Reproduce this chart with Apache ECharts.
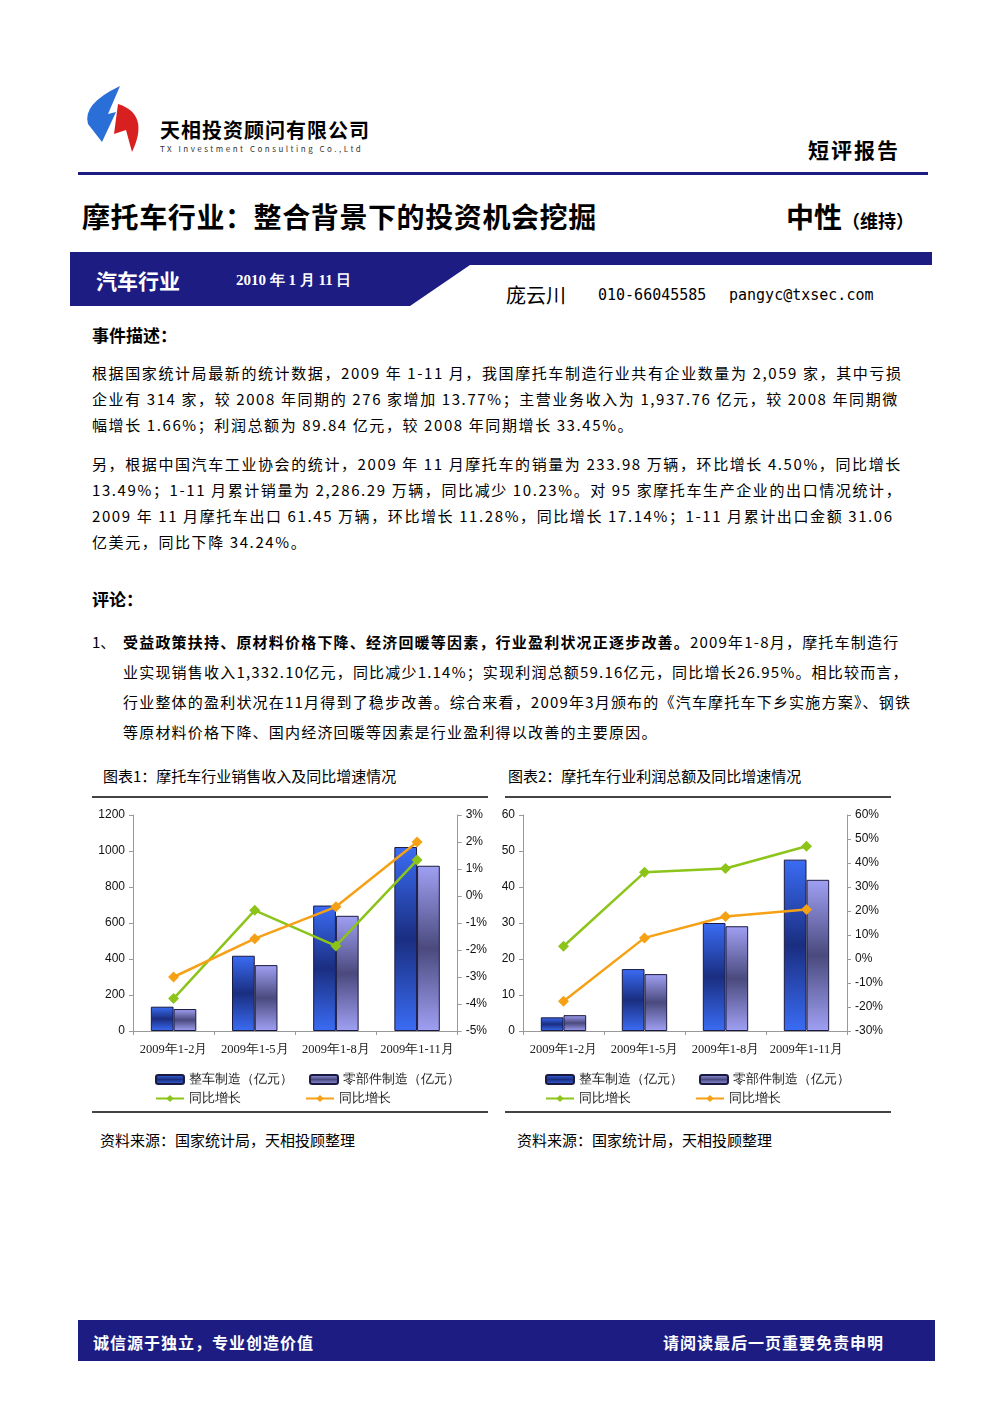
<!DOCTYPE html>
<html><head><meta charset="utf-8">
<script src="https://cdn.jsdelivr.net/npm/echarts@6/dist/echarts.min.js"></script>
<style>
body{margin:0;width:992px;height:1403px;background:#fff;position:relative;font-family:"Noto Sans CJK SC",sans-serif;color:#000;overflow:hidden}
.a{position:absolute;white-space:nowrap}
p.t{position:absolute;left:92px;width:820px;margin:0;font-size:15px;line-height:26px;letter-spacing:1.6px}
</style></head><body>
<svg class="a" style="left:80px;top:84px" width="75" height="72">
<path d="M40 2 L28 30 L36 28 L22 58 L8 40 Q2 20 40 2Z" fill="#2a6fd8"/>
<path d="M38 20 Q70 30 52 68 L46 46 L34 50 Z" fill="#d82020"/>
</svg>
<div class="a" style="left:160px;top:118px;font-size:20px;line-height:24px;font-weight:bold;letter-spacing:1px">天相投资顾问有限公司</div>
<div class="a" style="left:160px;top:144px;font-size:8px;line-height:10px;letter-spacing:2.5px;color:#333">TX Investment Consulting Co.,Ltd</div>
<div class="a" style="left:808px;top:134px;font-size:21px;font-weight:bold;letter-spacing:2px">短评报告</div>
<div class="a" style="left:78px;top:172px;width:850px;height:3px;background:#1c1c82"></div>
<div class="a" style="left:82px;top:196px;font-size:28px;font-weight:bold;letter-spacing:0.6px">摩托车行业：整合背景下的投资机会挖掘</div>
<div class="a" style="left:786px;top:196px;font-size:28px;font-weight:bold">中性<span style="font-size:18px">（维持）</span></div>
<svg class="a" style="left:70px;top:252px" width="862" height="54"><polygon points="0,0 862,0 862,13 400,13 340,54 0,54" fill="#1c1c82"/></svg>
<div class="a" style="left:96px;top:265px;font-size:21px;font-weight:bold;color:#fff">汽车行业</div>
<div class="a" style="left:236px;top:271px;font-size:15px;font-weight:bold;color:#fff;font-family:'Liberation Serif',serif">2010 年 1 月 11 日</div>
<div class="a" style="left:506px;top:280px;font-size:20px">庞云川</div>
<div class="a" style="left:598px;top:286px;font-size:15px;font-family:'DejaVu Sans Mono',monospace">010-66045585</div>
<div class="a" style="left:729px;top:286px;font-size:15px;font-family:'DejaVu Sans Mono',monospace">pangyc@txsec.com</div>
<div class="a" style="left:92px;top:322px;font-size:17px;font-weight:bold">事件描述：</div>
<p class="t" style="top:360px">根据国家统计局最新的统计数据，2009 年 1-11 月，我国摩托车制造行业共有企业数量为 2,059 家，其中亏损企业有 314 家，较 2008 年同期的 276 家增加 13.77%；主营业务收入为 1,937.76 亿元，较 2008 年同期微幅增长 1.66%；利润总额为 89.84 亿元，较 2008 年同期增长 33.45%。</p>
<p class="t" style="top:451px">另，根据中国汽车工业协会的统计，2009 年 11 月摩托车的销量为 233.98 万辆，环比增长 4.50%，同比增长 13.49%；1-11 月累计销量为 2,286.29 万辆，同比减少 10.23%。对 95 家摩托车生产企业的出口情况统计，2009 年 11 月摩托车出口 61.45 万辆，环比增长 11.28%，同比增长 17.14%；1-11 月累计出口金额 31.06 亿美元，同比下降 34.24%。</p>
<div class="a" style="left:92px;top:586px;font-size:17px;font-weight:bold">评论：</div>
<div class="a" style="left:92px;top:630px;font-size:15px;line-height:24px">1、</div>
<p class="t" style="top:627px;left:123px;width:790px;line-height:30px;letter-spacing:1.2px"><b>受益政策扶持、原材料价格下降、经济回暖等因素，行业盈利状况正逐步改善。</b>2009年1-8月，摩托车制造行业实现销售收入1,332.10亿元，同比减少1.14%；实现利润总额59.16亿元，同比增长26.95%。相比较而言，行业整体的盈利状况在11月得到了稳步改善。综合来看，2009年3月颁布的《汽车摩托车下乡实施方案》、钢铁等原材料价格下降、国内经济回暖等因素是行业盈利得以改善的主要原因。</p>
<div class="a" style="left:103px;top:765px;font-size:15px">图表1：摩托车行业销售收入及同比增速情况</div>
<div class="a" style="left:508px;top:765px;font-size:15px">图表2：摩托车行业利润总额及同比增速情况</div>
<div class="a" style="left:92px;top:796px;width:396px;height:2px;background:#444"></div>
<div class="a" style="left:505px;top:796px;width:386px;height:2px;background:#444"></div>
<div class="a" style="left:92px;top:1111px;width:396px;height:2px;background:#444"></div>
<div class="a" style="left:505px;top:1111px;width:386px;height:2px;background:#444"></div>
<div id="c1" class="a" style="left:90px;top:800px;width:400px;height:310px"></div>
<div id="c2" class="a" style="left:495px;top:800px;width:400px;height:310px"></div>
<div class="a" style="left:100px;top:1129px;font-size:15px">资料来源：国家统计局，天相投顾整理</div>
<div class="a" style="left:517px;top:1129px;font-size:15px">资料来源：国家统计局，天相投顾整理</div>
<div class="a" style="left:78px;top:1320px;width:857px;height:41px;background:#1c1c82"></div>
<div class="a" style="left:93px;top:1330px;font-size:16px;font-weight:bold;color:#fff;letter-spacing:1px">诚信源于独立，专业创造价值</div>
<div class="a" style="left:663px;top:1330px;font-size:16px;font-weight:bold;color:#fff;letter-spacing:1px">请阅读最后一页重要免责申明</div>
<script>
var categories=['2009年1-2月','2009年1-5月','2009年1-8月','2009年1-11月'];
var c1Vehicle=[135,418,697,1022];
var c1Parts=[122,366,640,918];
var c1GreenPct=[-3.8,-0.53,-1.85,1.33];
var c1OrangePct=[-3.0,-1.58,-0.4,2.0];
var c2Vehicle=[3.8,17.2,30,47.6];
var c2Parts=[4.4,15.8,29.1,42];
var c2GreenPct=[5.3,36.1,37.7,47];
var c2OrangePct=[-17.6,8.8,17.7,20.6];

function grad(a,b){return new echarts.graphic.LinearGradient(0,0,0,1,[{offset:0,color:a},{offset:0.5,color:b},{offset:1,color:a}]);}
function mk(id,v,p,g,o,lmax,lint,rmin,rmax,rint,gl,gr){
 var ch=echarts.init(document.getElementById(id));
 var ax={fontSize:12,color:'#111',fontFamily:'Liberation Sans'};
 ch.setOption({animation:false,
  grid:{left:gl,right:gr,top:15,bottom:79},
  legend:[{data:['整车制造（亿元）','零部件制造（亿元）'],left:gl+17,top:268,itemWidth:28,itemHeight:9,itemGap:16,textStyle:{fontSize:13,color:'#222'}},
          {data:['同比增长','同比增长 '],left:gl+17,top:287,itemWidth:28,itemHeight:9,itemGap:64,textStyle:{fontSize:13,color:'#222'}}],
  xAxis:{type:'category',data:categories,axisLine:{lineStyle:{color:'#999'}},axisTick:{show:true,length:4,lineStyle:{color:'#999'}},
   axisLabel:{interval:0,fontSize:12.5,color:'#222',margin:12,fontFamily:'Liberation Serif'}},
  yAxis:[{type:'value',min:0,max:lmax,interval:lint,splitLine:{show:false},axisLine:{show:true,lineStyle:{color:'#999'}},axisTick:{show:true,length:4,lineStyle:{color:'#999'}},axisLabel:Object.assign({formatter:function(x){return String(x);}},ax)},
   {type:'value',min:rmin,max:rmax,interval:rint,splitLine:{show:false},axisLine:{show:true,lineStyle:{color:'#999'}},axisTick:{show:true,length:4,lineStyle:{color:'#999'}},axisLabel:Object.assign({formatter:'{value}%'},ax)}],
  series:[
   {name:'整车制造（亿元）',type:'bar',data:v,barWidth:'28%',barGap:'0%',itemStyle:{color:grad('#3a6cf4','#1a2e80'),borderColor:'#1a1a40',borderWidth:1}},
   {name:'零部件制造（亿元）',type:'bar',data:p,barWidth:'28%',itemStyle:{color:grad('#a0a0f4','#4a4a7e'),borderColor:'#1a1a40',borderWidth:1}},
   {name:'同比增长',type:'line',yAxisIndex:1,data:g,symbol:'diamond',symbolSize:11,lineStyle:{color:'#8cc41a',width:2.5},itemStyle:{color:'#8cc41a'}},
   {name:'同比增长 ',type:'line',yAxisIndex:1,data:o,symbol:'diamond',symbolSize:11,lineStyle:{color:'#f5a015',width:2.5},itemStyle:{color:'#f5a015'}}
  ]});
}
mk('c1',c1Vehicle,c1Parts,c1GreenPct,c1OrangePct,1200,200,-5,3,1,43,25);
mk('c2',c2Vehicle,c2Parts,c2GreenPct,c2OrangePct,60,10,-30,60,10,28,48);
</script>
</body></html>
